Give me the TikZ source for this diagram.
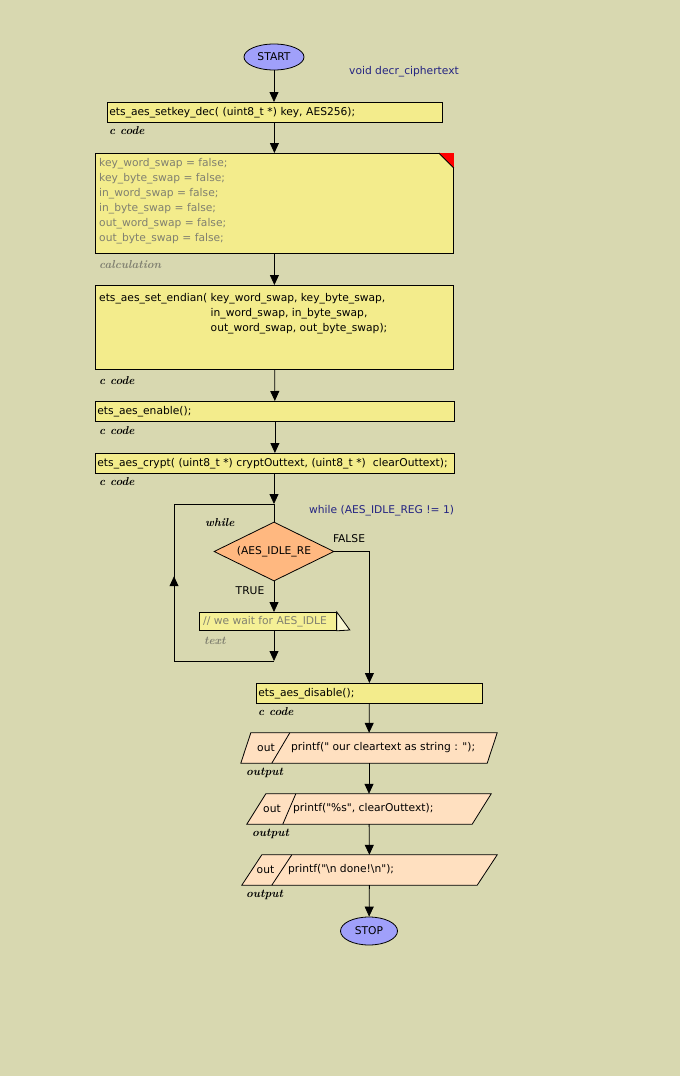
\documentclass[tikz,border=0pt]{standalone}
\usepackage{fontspec}
\newfontfamily\codefont[Ligatures=TeXOff]{DejaVu Sans}
\usetikzlibrary{shapes.geometric,arrows.meta,calc}

\definecolor{canvas}{RGB}{216,216,176}
\definecolor{codefill}{RGB}{243,236,140}
\definecolor{termfill}{RGB}{160,160,250}
\definecolor{decfill}{RGB}{255,184,128}
\definecolor{outfill}{RGB}{255,224,192}
\definecolor{notefill}{RGB}{245,240,150}
\definecolor{foldfill}{RGB}{250,248,212}
\definecolor{navytext}{RGB}{36,36,130}
\definecolor{greytext}{RGB}{128,128,112}

\tikzset{
	line/.style = {draw, line width=0.8pt},
	flow/.style = {line, -{Triangle[width=9pt,length=10pt]}},
	codebox/.style = {draw, fill=codefill, line width=0.8pt, anchor=north west,
		inner xsep=2pt, inner ysep=0pt, align=left, minimum height=20pt,
		font=\codefont\fontsize{10.7}{15}\selectfont},
	term/.style = {ellipse, draw, fill=termfill, line width=0.8pt, inner sep=0pt,
		font=\codefont\fontsize{10.7}{12}\selectfont},
	decision/.style = {diamond, draw, fill=decfill, line width=0.8pt, inner sep=0pt,
		aspect=2, font=\codefont\fontsize{10.7}{12}\selectfont},
	outbox/.style = {inner sep=0pt, minimum height=30pt},
	plain/.style = {inner sep=0pt, font=\codefont\fontsize{10.7}{15}\selectfont},
	kind/.style = {inner sep=0pt, anchor=west, font=\bfseries\itshape\fontsize{11.5}{12}\selectfont},
	greykind/.style = {kind, text=greytext},
}
% parallelogram round an output node: #1 node, #2 half of the slant
\newcommand{\outshape}[2]{%
	\filldraw[fill=outfill, line width=0.8pt] ($(#1.north west)+(#2,0)$) -- ($(#1.north east)+(#2,0)$)
		-- ($(#1.south east)+(-#2,0)$) -- ($(#1.south west)+(-#2,0)$) -- cycle;}

\begin{document}
\begin{tikzpicture}[x=1pt,y=-1pt]
	\fill[canvas] (0,0) rectangle (680,1076);
	\useasboundingbox (0,0) rectangle (680,1076);

	\node[term, minimum width=60pt, minimum height=26pt] (start) at (274,57) {START};
	\node[plain, anchor=west, text=navytext] (fname) at (349,72) {void decr\_ciphertext};

	\node[codebox, text width=331pt] (setkey) at (107,102) {ets\_aes\_setkey\_dec( (uint8\_t *) key, AES256);};
	\node[kind] (setkeyk) at (109,131) {c code};

	\node[codebox, minimum width=358pt, minimum height=100pt] (calc) at (95,153) {};
	\fill[red] (calc.north east) -- ++(-15,0) -- ++(15,15) -- cycle;
	\draw[line width=0.8pt] ($(calc.north east)+(-15,0)$) -- ++(15,15);
	\node[plain, anchor=north west, align=left, text=greytext] (calctxt) at ($(calc.north west)+(4,5)$)
		{key\_word\_swap = false;\\key\_byte\_swap = false;\\in\_word\_swap = false;\\
		in\_byte\_swap = false;\\out\_word\_swap = false;\\out\_byte\_swap = false;};
	\node[greykind] (calck) at (99,265) {calculation};

	\node[codebox, minimum width=358pt, minimum height=84pt] (endian) at (95,285) {};
	\node[plain, anchor=north west, align=left] (endiantxt) at ($(endian.north west)+(4,8)$)
		{ets\_aes\_set\_endian( key\_word\_swap, key\_byte\_swap,\\
		\phantom{ets\_aes\_set\_endian( }in\_word\_swap, in\_byte\_swap,\\
		\phantom{ets\_aes\_set\_endian( }out\_word\_swap, out\_byte\_swap);};
	\node[kind] (endiank) at (99,381) {c code};

	\node[codebox, text width=355pt] (enable) at (95,401) {ets\_aes\_enable();};
	\node[kind] (enablek) at (99,431) {c code};

	\node[codebox, text width=355pt] (crypt) at (95,453) {ets\_aes\_crypt( (uint8\_t *) cryptOuttext, (uint8\_t *)\ \ clearOuttext);};
	\node[kind] (cryptk) at (99,482) {c code};

	\coordinate (looptop) at (274,504);
	\coordinate (loopbot) at (274,661);
	\coordinate (loopbl) at (174,661);
	\coordinate (looptl) at (174,504);
	\node[plain, anchor=west, text=navytext] (whiletxt) at (309,511) {while (AES\_IDLE\_REG != 1)};
	\node[kind] (whilek) at (205,523) {while};
	\node[decision, minimum width=120pt, minimum height=59pt] (cond) at (274,551.5) {(AES\_IDLE\_RE};
	\node[plain] (false) at (349,539) {FALSE};
	\node[plain] (true) at (250,591) {TRUE};

	\node[draw, fill=notefill, line width=0.8pt, anchor=north west, minimum width=137pt,
		minimum height=18pt, inner sep=0pt] (note) at (199,612) {};
	\filldraw[fill=foldfill, line width=0.8pt] (note.north east) -- ++(13,18) -- (note.south east) -- cycle;
	\node[plain, anchor=west, text=greytext] (notetxt) at ($(note.west)+(4,0)$) {// we wait for AES\_IDLE};
	\node[greykind] (notek) at (204,641) {text};

	\node[codebox, text width=222pt] (disable) at (256,683) {ets\_aes\_disable();};
	\node[kind] (disablek) at (258,712) {c code};

	\node[outbox, minimum width=246pt] (out1) at (369,748) {};
	\outshape{out1}{5}
	\draw[line width=0.8pt] ($(out1.north west)+(44,0)$) -- ($(out1.south west)+(26,0)$);
	\node[plain] (out1a) at (266,748) {out};
	\node[plain, anchor=west] (out1b) at (291,748) {printf(" our cleartext as string : ");};
	\node[kind] (out1k) at (246,773) {output};

	\node[outbox, minimum width=225pt] (out2) at (369,809) {};
	\outshape{out2}{9.5}
	\draw[line width=0.8pt] ($(out2.north west)+(39.5,0)$) -- ($(out2.south west)+(26.5,0)$);
	\node[plain] (out2a) at (272,809) {out};
	\node[plain, anchor=west] (out2b) at (293,809) {printf("\%s", clearOuttext);};
	\node[kind] (out2k) at (252,834) {output};

	\node[outbox, minimum width=235pt] (out3) at (369.5,870) {};
	\outshape{out3}{10}
	\draw[line width=0.8pt] ($(out3.north west)+(40,0)$) -- ($(out3.south west)+(20,0)$);
	\node[plain] (out3a) at (265.5,870) {out};
	\node[plain, anchor=west] (out3b) at (288,870) {printf("\textbackslash n done!\textbackslash n");};
	\node[kind] (out3k) at (246,895) {output};

	\node[term, minimum width=57pt, minimum height=28pt] (stop) at (369,931) {STOP};

	\draw[flow] (start.south) -- (start.south |- setkey.north);
	\draw[flow] (setkey.south -| calc.north) -- (calc.north);
	\draw[flow] (calc) -- (endian);
	\draw[flow] (endian) -- (enable);
	\draw[flow] (enable) -- (crypt);
	\draw[flow] (crypt.south -| looptop) -- (looptop);
	\draw[line] (looptop) -- (cond.north);
	\draw[flow] (cond.south) -- (cond.south |- note.north);
	\draw[flow] (cond.south |- note.south) -- (loopbot);
	\draw[line] (loopbot) -- (loopbl) -- (looptl) -- (looptop);
	\draw[flow] (loopbl) -- ($(loopbl)!0.54!(looptl)$);
	\draw[flow] (cond.east) -| (disable.north);
	\draw[flow] (disable) -- (out1);
	\draw[flow] (out1) -- (out2);
	\draw[flow] (out2) -- (out3);
	\draw[flow] (out3) -- (stop);
\end{tikzpicture}
\end{document}
